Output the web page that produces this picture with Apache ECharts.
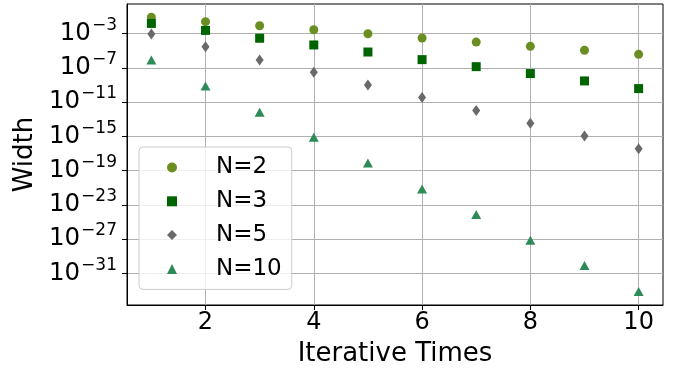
<!DOCTYPE html>
<html>
<head>
<meta charset="utf-8">
<script src="https://cdn.jsdelivr.net/npm/echarts@6/dist/echarts.min.js"></script>
<style>
html,body{margin:0;padding:0;background:#fff;}
#chart{width:674px;height:373px;}
</style>
</head>
<body>
<div id="chart"></div>
<script>
// Iterations (x)
const iterations = [1, 2, 3, 4, 5, 6, 7, 8, 9, 10];
// Width values for each N
const widthN2  = [7.9e-2, 2.4e-2, 8.1e-3, 2.75e-3, 9.5e-4, 3.0e-4, 1.0e-4, 3.2e-5, 1.1e-5, 3.7e-6];
const widthN3  = [1.5e-2, 2.3e-3, 2.8e-4, 4.6e-5, 6.9e-6, 8.9e-7, 1.35e-7, 2.1e-8, 2.9e-9, 3.7e-10];
const widthN5  = [8.7e-4, 2.9e-5, 8.1e-7, 3.0e-8, 1.0e-9, 3.3e-11, 1.0e-12, 3.4e-14, 1.1e-15, 3.5e-17];
const widthN10 = [8.1e-7, 7.6e-10, 6.6e-13, 7.9e-16, 7.4e-19, 6.9e-22, 7.6e-25, 7.1e-28, 7.9e-31, 7.4e-34];
const seriesNames = ['N=2', 'N=3', 'N=5', 'N=10'];
// Tick labels
const xTicks = [2, 4, 6, 8, 10];
const yTickExponents = [-3, -7, -11, -15, -19, -23, -27, -31];

const FONT = 'DejaVu Sans';
const toPts = vals => iterations.map((x, i) => [x, Math.log10(vals[i])]);

const chart = echarts.init(document.getElementById('chart'), null, {renderer: 'canvas'});
const option = {
  animation: false,
  backgroundColor: '#ffffff',
  textStyle: {fontFamily: FONT, color: '#000'},
  grid: {left: 127, right: 11, top: 4, bottom: 68, show: true, borderColor: '#000', borderWidth: 1, containLabel: false},
  legend: {
    orient: 'vertical',
    left: 139, top: 147,
    padding: [9, 10, 9, 28],
    itemWidth: 10, itemHeight: 10, itemGap: 10.8,
    backgroundColor: 'rgba(255,255,255,0.8)',
    borderColor: '#cccccc', borderWidth: 1, borderRadius: 4,
    data: seriesNames,
    formatter: n => '{t|' + n + '}',
    textStyle: {
      fontFamily: FONT, color: '#000',
      rich: {t: {fontFamily: FONT, fontSize: 23, lineHeight: 24, padding: [0, 0, 0, 34], color: '#000'}}
    }
  },
  xAxis: {
    type: 'value', min: 0.55, max: 10.45,
    name: 'Iterative Times', nameLocation: 'middle', nameGap: 36,
    nameTextStyle: {fontFamily: FONT, fontSize: 26, color: '#000'},
    axisLine: {show: true, onZero: false, lineStyle: {color: '#000', width: 1}},
    axisTick: {show: true, inside: false, length: 5, lineStyle: {color: '#000'}, customValues: xTicks},
    axisLabel: {fontFamily: FONT, fontSize: 24, color: '#000', margin: 6, customValues: xTicks},
    splitLine: {show: true, lineStyle: {color: '#b0b0b0', width: 1}}
  },
  yAxis: {
    type: 'value', min: -34.70, max: 0.445,
    name: 'Width', nameLocation: 'middle', nameGap: 89, nameRotate: 90,
    nameTextStyle: {fontFamily: FONT, fontSize: 26, color: '#000'},
    axisLine: {show: true, onZero: false, lineStyle: {color: '#000', width: 1}},
    axisTick: {show: true, inside: false, length: 5, lineStyle: {color: '#000'}, customValues: yTickExponents},
    axisLabel: {
      margin: 10, customValues: yTickExponents,
      formatter: v => '{b|10}{s|\u2212' + Math.abs(Math.round(v)) + '}',
      rich: {
        b: {fontFamily: FONT, fontSize: 24.5, color: '#000'},
        s: {fontFamily: FONT, fontSize: 17, color: '#000', padding: [0, 0, 16, 1]}
      }
    },
    splitLine: {show: true, lineStyle: {color: '#b0b0b0', width: 1}}
  },
  series: [
    {name: 'N=2', type: 'scatter', symbol: 'circle', symbolSize: 9, itemStyle: {color: '#6b8e23', opacity: 1}, data: toPts(widthN2)},
    {name: 'N=3', type: 'scatter', symbol: 'rect', symbolSize: 9, itemStyle: {color: '#006400', opacity: 1}, data: toPts(widthN3)},
    {name: 'N=5', type: 'scatter', symbol: 'diamond', symbolSize: [8, 11], itemStyle: {color: '#696969', opacity: 1}, data: toPts(widthN5)},
    {name: 'N=10', type: 'scatter', symbol: 'triangle', symbolSize: [10, 9], itemStyle: {color: '#2e8b57', opacity: 1}, data: toPts(widthN10)}
  ]
};
chart.setOption(option);
</script>
</body>
</html>
